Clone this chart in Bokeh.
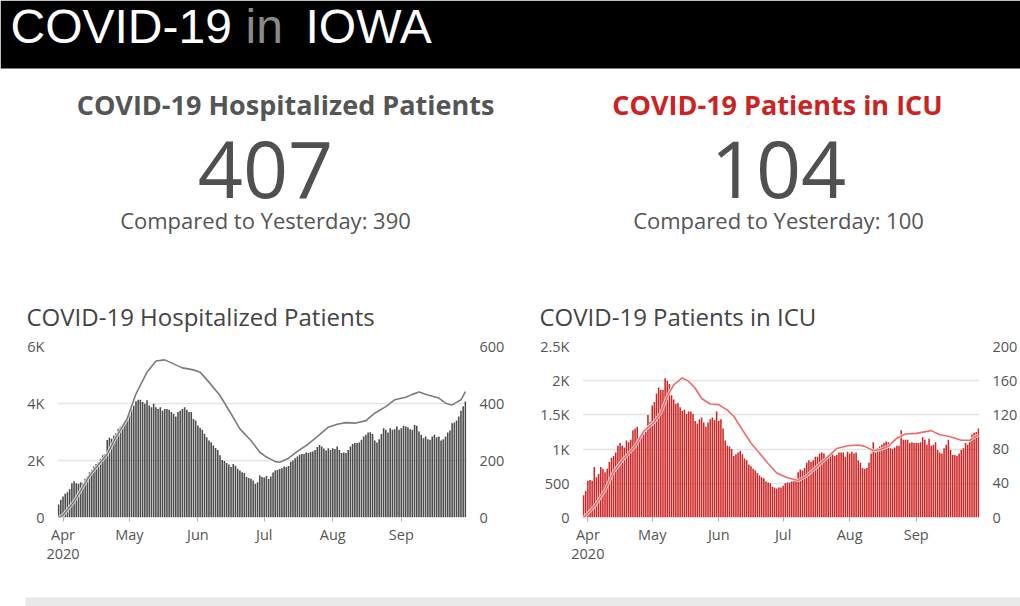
import pandas as pd
from bokeh.plotting import figure
from bokeh.layouts import column, row
from bokeh.models import Range1d, LinearAxis, FixedTicker
from bokeh.core.properties import value
from bokeh.embed import file_html
from bokeh.resources import INLINE

# ---------------- data ----------------
start_date = "2020-03-30"
n_days = 185

hospitalized = [46, 62, 74, 83, 89, 99, 120, 127, 120, 118, 124, 120, 136, 144, 159, 167, 179, 188, 194, 206,
                218, 223, 272, 280, 276, 288, 296, 311, 319, 329, 340, 354, 361, 381, 393, 408, 413, 413, 405, 399,
                411, 393, 387, 399, 387, 381, 387, 375, 381, 381, 378, 370, 364, 354, 370, 375, 381, 387, 378, 370,
                370, 346, 340, 323, 315, 308, 294, 282, 270, 264, 253, 244, 237, 218, 202, 198, 191, 186, 177, 188,
                182, 171, 165, 159, 156, 142, 139, 136, 130, 118, 124, 147, 142, 140, 146, 135, 144, 158, 165, 167,
                170, 173, 179, 177, 181, 196, 200, 208, 214, 220, 223, 223, 228, 226, 230, 232, 237, 247, 254, 249,
                242, 235, 243, 237, 243, 240, 249, 237, 226, 228, 226, 237, 249, 258, 261, 261, 263, 273, 284, 290,
                298, 299, 293, 270, 263, 275, 293, 313, 308, 298, 313, 308, 310, 319, 308, 313, 322, 319, 317, 310,
                308, 325, 322, 302, 290, 278, 284, 275, 273, 284, 290, 282, 284, 270, 275, 284, 298, 305, 331, 333,
                340, 354, 375, 390, 407]

icu = [26, 31, 43, 44, 43, 59, 47, 51, 59, 57, 53, 57, 65, 70, 72, 76, 84, 87, 84, 82,
       90, 88, 91, 102, 104, 106, 94, 97, 98, 100, 120, 112, 131, 135, 145, 152, 149, 149, 163, 160,
       156, 143, 138, 133, 134, 129, 125, 126, 121, 124, 124, 121, 113, 110, 115, 117, 111, 106, 111, 115,
       117, 114, 124, 113, 115, 104, 90, 84, 83, 80, 72, 74, 76, 78, 74, 69, 67, 62, 60, 57,
       55, 52, 49, 47, 46, 42, 41, 40, 36, 35, 34, 35, 35, 37, 40, 41, 41, 42, 43, 44,
       53, 56, 55, 58, 64, 67, 65, 67, 71, 71, 75, 76, 75, 71, 73, 72, 75, 72, 73, 76,
       76, 76, 71, 77, 75, 77, 75, 76, 67, 64, 58, 57, 58, 64, 75, 88, 76, 81, 83, 85,
       87, 89, 88, 81, 80, 82, 84, 84, 102, 91, 91, 91, 87, 88, 87, 87, 87, 88, 94, 91,
       85, 92, 84, 85, 88, 79, 76, 75, 81, 85, 91, 79, 73, 73, 72, 75, 79, 81, 87, 85,
       89, 97, 99, 100, 104]

hosp_line_day = [0, 2, 7, 14, 22, 26, 31, 35, 40, 44, 48, 52, 56, 61, 64, 68, 73, 78, 82, 87, 91, 94,
                 98, 100, 104, 108, 113, 117, 122, 126, 130, 134, 139, 143, 148, 152, 157, 160, 163, 167,
                 172, 175, 178, 182, 184]
hosp_line_val = [0, 80, 560, 1470, 2230, 2820, 3460, 4340, 5100, 5490, 5530, 5390, 5250, 5180, 5100, 4750,
                 4280, 3640, 3110, 2700, 2290, 2120, 1960, 1940, 2080, 2320, 2580, 2840, 3170, 3270, 3330,
                 3310, 3400, 3660, 3890, 4130, 4220, 4320, 4400, 4300, 4190, 4010, 3950, 4130, 4420]

icu_line_day = [0, 5, 10, 14, 19, 24, 28, 33, 36, 39, 42, 46, 49, 52, 55, 59, 63, 67, 70, 74, 78, 82, 86,
                90, 95, 100, 104, 109, 114, 118, 123, 128, 131, 135, 138, 142, 146, 150, 155, 162, 166, 171,
                176, 180, 184]
icu_line_val = [0, 160, 400, 670, 870, 1040, 1260, 1400, 1530, 1770, 1940, 2040, 1990, 1890, 1740, 1660,
                1650, 1570, 1480, 1280, 1090, 940, 790, 650, 580, 540, 610, 750, 890, 1010, 1050, 1060, 1040,
                980, 990, 1040, 1160, 1220, 1230, 1270, 1210, 1180, 1130, 1130, 1210]

month_starts = ["2020-04-01", "2020-05-01", "2020-06-01", "2020-07-01", "2020-08-01", "2020-09-01"]
month_labels = ["Apr\n2020", "May", "Jun", "Jul", "Aug", "Sep"]

hosp_left_ticks = [0, 2000, 4000, 6000]
hosp_left_labels = ["0", "2K", "4K", "6K"]
hosp_right_ticks = [0, 200, 400, 600]
icu_left_ticks = [0, 500, 1000, 1500, 2000, 2500]
icu_left_labels = ["0", "500", "1K", "1.5K", "2K", "2.5K"]
icu_right_ticks = [0, 40, 80, 120, 160, 200]

header_words = ["COVID-19", "in", "IOWA"]
kpi_titles = ["COVID-19 Hospitalized Patients", "COVID-19 Patients in ICU"]
kpi_values = ["407", "104"]
kpi_compare = ["Compared to Yesterday: 390", "Compared to Yesterday: 100"]
chart_titles = ["COVID-19 Hospitalized Patients", "COVID-19 Patients in ICU"]

# ---------------- helpers ----------------
FONT = "Open Sans"
BASE_SHIFT = 0.39  # svg alphabetic baseline correction (fraction of font size)
dates = pd.date_range(start_date, periods=n_days, freq="D")
t0 = pd.Timestamp(start_date)
hosp_line_dates = [t0 + pd.Timedelta(days=d) for d in hosp_line_day]
icu_line_dates = [t0 + pd.Timedelta(days=d) for d in icu_line_day]
epoch = pd.Timestamp("1970-01-01")
month_ms = [float((pd.Timestamp(m) - epoch) // pd.Timedelta("1ms")) for m in month_starts]
DAY_MS = 86400000
TOP_H = 332


def base(y, size):
    return y - BASE_SHIFT * size


def make_chart(left_border, right_border, left_max, right_max,
               left_ticks, left_labels, right_ticks, bars, bar_fill,
               line_dates, line_vals, line_color):
    p = figure(width=510, height=590 - TOP_H, x_axis_type="datetime",
               x_range=Range1d(pd.Timestamp("2020-03-29 12:00"), pd.Timestamp("2020-09-30 12:00")),
               y_range=Range1d(0, left_max), output_backend="svg", toolbar_location=None,
               min_border_left=left_border, min_border_right=right_border,
               min_border_top=346 - TOP_H, min_border_bottom=73)
    p.outline_line_color = None
    p.background_fill_color = "white"
    p.border_fill_color = "white"

    p.extra_y_ranges = {"r": Range1d(0, right_max)}
    raxis = LinearAxis(y_range_name="r", ticker=FixedTicker(ticks=right_ticks))
    p.add_layout(raxis, "right")

    lticker = FixedTicker(ticks=left_ticks)
    p.yaxis[0].ticker = lticker
    p.yaxis[0].major_label_overrides = {float(t): l for t, l in zip(left_ticks, left_labels)}
    p.ygrid[0].ticker = lticker
    p.ygrid.grid_line_color = "#e4e4e4"
    p.ygrid.grid_line_width = 1.5
    p.xgrid.grid_line_color = None

    for ax in p.yaxis:
        ax.axis_line_color = None
        ax.major_tick_line_color = None
        ax.minor_tick_line_color = None
        ax.major_label_text_font = FONT
        ax.major_label_text_font_size = "14.5px"
        ax.major_label_text_color = "#555555"
        ax.major_label_standoff = 7

    xa = p.xaxis[0]
    xa.ticker = FixedTicker(ticks=month_ms)
    xa.major_label_overrides = {m: l for m, l in zip(month_ms, month_labels)}
    xa.axis_line_color = None
    xa.major_tick_in = 0
    xa.major_tick_out = 4
    xa.major_tick_line_color = "#b0b0b0"
    xa.minor_tick_line_color = None
    xa.major_label_text_font = FONT
    xa.major_label_text_font_size = "14.5px"
    xa.major_label_text_color = "#555555"
    xa.major_label_text_line_height = 1.0
    xa.major_label_standoff = 3

    p.vbar(x=dates, top=bars, width=0.72 * DAY_MS, y_range_name="r",
           fill_color=bar_fill, line_color=None)
    p.line(x=line_dates, y=line_vals, line_color="white", line_width=3.2, line_alpha=0.8)
    p.line(x=line_dates, y=line_vals, line_color=line_color, line_width=1.6)
    return p


left = make_chart(57, 44, 6000, 600, hosp_left_ticks, hosp_left_labels,
                  hosp_right_ticks, hospitalized, "#4c4c4c",
                  hosp_line_dates, hosp_line_val, "#7c7c7c")
right = make_chart(72, 41, 2500, 200, icu_left_ticks, icu_left_labels,
                   icu_right_ticks, icu, "#cf2424",
                   icu_line_dates, icu_line_val, "#ee6a6a")

# ---------------- header, KPIs, chart titles ----------------
top = figure(width=1020, height=TOP_H, x_range=Range1d(0, 1020), y_range=Range1d(TOP_H, 0),
             output_backend="svg", toolbar_location=None, min_border=0)
top.axis.visible = False
top.grid.visible = False
top.outline_line_color = None
top.quad(left=[0], right=[1020], top=[0], bottom=[68], fill_color="black", line_color=None)

HFONT = "Liberation Sans"
top.text(x=[10, 245, 305], y=[base(45, 48)] * 3, text=header_words,
         text_color=["white", "#8a8a8a", "white"], text_font=value(HFONT),
         text_font_size="48px", text_baseline="alphabetic", text_align="left")

kpi_title_x = [285, 777]
kpi_num_x = [265, 778]
kpi_title_colors = ["#555555", "#cc2222"]
top.text(x=kpi_title_x, y=[base(115, 27)] * 2, text=kpi_titles, text_color=kpi_title_colors,
         text_font=value(FONT), text_font_size="27px", text_font_style="bold",
         text_baseline="alphabetic", text_align="center")
top.text(x=kpi_num_x, y=[base(200, 79)] * 2, text=kpi_values, text_color="#505050", text_font=value(FONT),
         text_font_size="79px", text_baseline="alphabetic", text_align="center")
top.text(x=kpi_num_x, y=[base(228, 22)] * 2, text=kpi_compare, text_color="#555555", text_font=value(FONT),
         text_font_size="22px", text_baseline="alphabetic", text_align="center")
top.text(x=[26, 539], y=[base(325, 24)] * 2, text=chart_titles, text_color="#444444",
         text_font=value(FONT), text_font_size="24px", text_baseline="alphabetic", text_align="left")

bottom = figure(width=1020, height=16, x_range=Range1d(0, 1020), y_range=Range1d(16, 0),
                output_backend="svg", toolbar_location=None, min_border=0)
bottom.axis.visible = False
bottom.grid.visible = False
bottom.outline_line_color = None
bottom.quad(left=[25], right=[1020], top=[7], bottom=[16], fill_color="#e8e8e8", line_color=None)

page = column(top, row(left, right), bottom)
open("out.html", "w").write(file_html(page, INLINE))
